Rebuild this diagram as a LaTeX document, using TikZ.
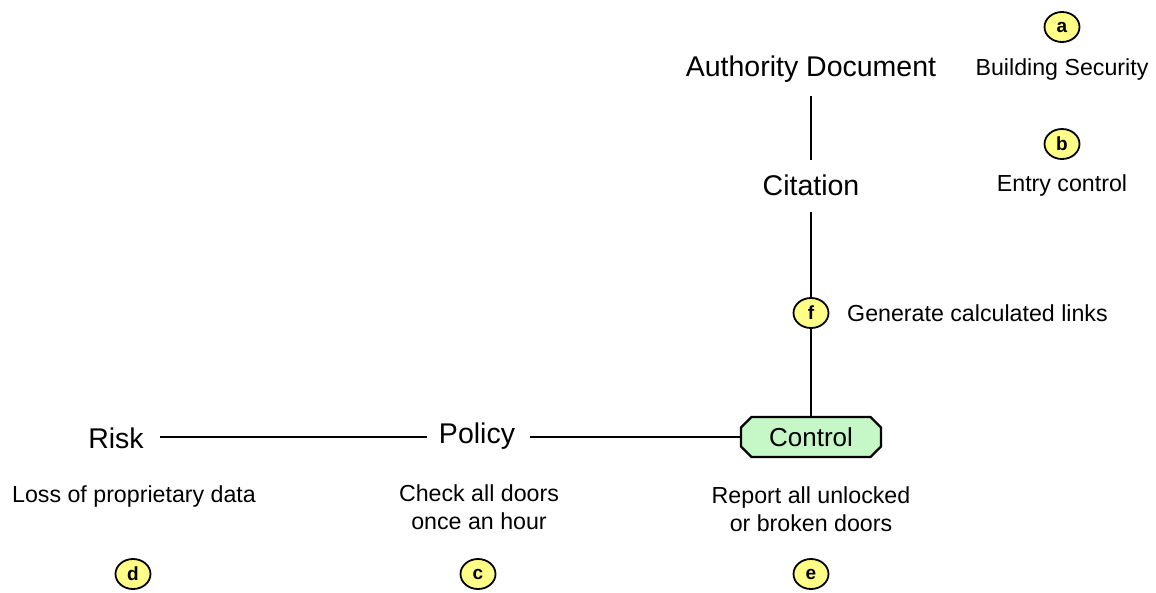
\documentclass[tikz,border=0pt]{standalone}
\usepackage{fontspec}
\setmainfont{Liberation Sans}
\usetikzlibrary{shapes.misc,shapes.geometric}
\definecolor{badgeyellow}{HTML}{FFFF88}
\definecolor{ctrlgreen}{HTML}{C6F7C6}
\tikzset{
  big/.style={font=\fontsize{28.5}{31}\selectfont, inner sep=0pt},
  small/.style={font=\fontsize{23.2}{28}\selectfont, align=center, inner sep=0pt},
  badge/.style={ellipse, draw=black, line width=1.8pt, fill=badgeyellow, minimum width=35pt, minimum height=30pt, inner sep=0pt, font=\bfseries\fontsize{19}{19}\selectfont},
  link/.style={line width=2pt, draw=black},
  ctrl/.style={chamfered rectangle, chamfered rectangle xsep=7pt, draw=black, line width=2.2pt, fill=ctrlgreen, minimum width=140pt, minimum height=40pt, inner sep=0pt, font=\fontsize{26}{28}\selectfont}
}
\begin{document}
\begin{tikzpicture}[x=1pt,y=-1pt]
\useasboundingbox (0,0) rectangle (1156,592);
% main nodes
\node[big] (auth) at (811,69) {Authority Document};
\node[big] (cit) at (811,185) {Citation};
\node[badge] (f) at (811,313) {f};
\node[small, anchor=west] (gen) at (847,313) {Generate calculated links};
\node[ctrl] (control) at (811,437) {Control};
\node[big] (risk) at (116,438) {Risk};
\node[big] (policy) at (477,436) {Policy};
% descriptions
\node[small] (loss) at (134,496) {Loss of proprietary data};
\node[small] (check) at (479,507) {Check all doors\\once an hour};
\node[small] (report) at (811,509) {Report all unlocked\\or broken doors};
\node[small] (bsec) at (1062,69) {Building Security};
\node[small] (entry) at (1062,185) {Entry control};
% badges
\node[badge] (a) at (1062,27) {a};
\node[badge] (b) at (1062,144) {b};
\node[badge] (d) at (133,574) {d};
\node[badge] (c) at (478,574) {c};
\node[badge] (e) at (811,574) {e};
% connectors
\coordinate (rl) at (160,437);
\coordinate (pl) at (427,437);
\coordinate (pr) at (530,437);
\draw[link] ([yshift=-14pt]auth.south) -- ([yshift=14pt]cit.north);
\draw[link] ([yshift=-16pt]cit.south) -- (f.north);
\draw[link] (f.south) -- (control.north);
\draw[link] (rl) -- (pl);
\draw[link] (pr) -- (control.west);
\end{tikzpicture}
\end{document}
